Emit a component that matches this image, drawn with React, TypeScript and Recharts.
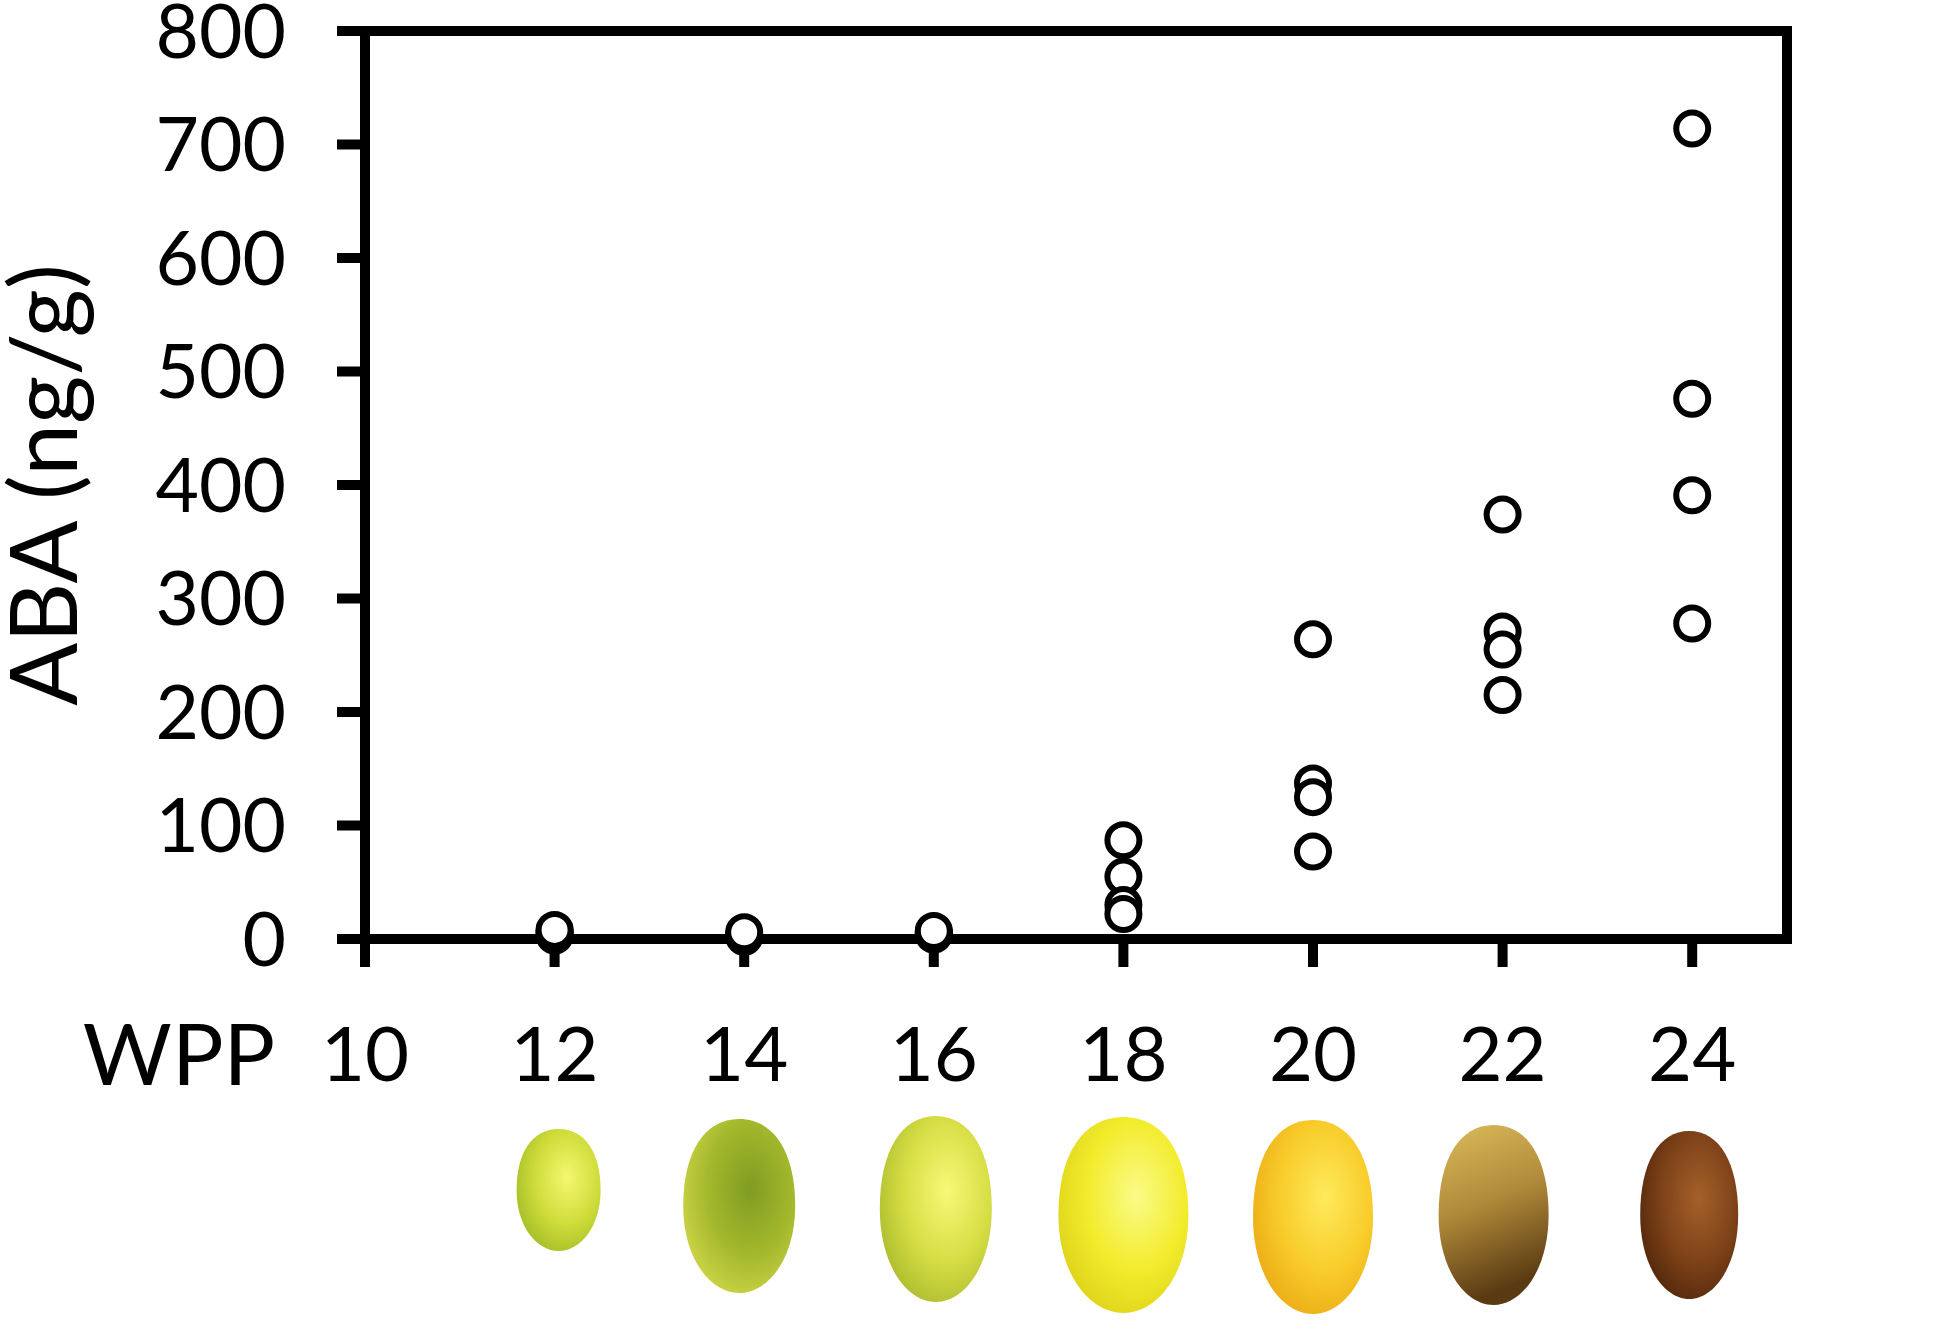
import { Scatter, ScatterChart, XAxis, YAxis, ReferenceLine, Label } from 'recharts'

// ABA content of fruit per sampling week (weeks post pollination)
const wppTicks = [10, 12, 14, 16, 18, 20, 22, 24]
const abaTicks = [0, 100, 200, 300, 400, 500, 600, 700, 800]

const weeks = [12, 14, 16, 18, 20, 22, 24]
const abaReplicates = [
  [3, 5, 7, 8],
  [2, 3, 4, 6],
  [4, 5, 6, 7],
  [87, 55, 30, 22],
  [264, 137, 125, 77],
  [374, 271, 255, 215],
  [714, 476, 391, 278],
]

const points = weeks.flatMap((wpp, i) => abaReplicates[i].map((aba) => ({ wpp, aba })))

// stand-ins for the fruit photos under each week label
type Look = {
  dx: number
  dy: number
  rx: number
  ry: number
  kind: 'radial' | 'linear'
  stops: string[]
}
const fruitLooks: Record<number, Look> = {
  12: { dx: 4, dy: 223, rx: 42, ry: 61, kind: 'radial', stops: ['#f4f870', '#cfdc3a', '#9fba26'] },
  14: { dx: -5, dy: 239, rx: 56, ry: 87, kind: 'radial', stops: ['#7f9c22', '#a4b82c', '#d2d84a'] },
  16: { dx: 2, dy: 242, rx: 56, ry: 93, kind: 'radial', stops: ['#f8f878', '#d6de44', '#a8b82c'] },
  18: { dx: 0, dy: 248, rx: 65, ry: 98, kind: 'radial', stops: ['#fbfb88', '#f2ec2c', '#dcd018'] },
  20: { dx: 0, dy: 250, rx: 60, ry: 97, kind: 'radial', stops: ['#feea5c', '#f8cc2a', '#eaa814'] },
  22: { dx: -9, dy: 248, rx: 55, ry: 90, kind: 'linear', stops: ['#dcbc5c', '#b08a3a', '#5a3a12'] },
  24: { dx: -3, dy: 248, rx: 49, ry: 84, kind: 'radial', stops: ['#a4602a', '#7e4218', '#4e240a'] },
}

const FONT = 'Lato, "Noto Sans", sans-serif'

function eggPath(cx: number, cy: number, rx: number, ry: number) {
  const t = cy - ry
  const b = cy + ry
  return [
    `M ${cx} ${t}`,
    `C ${cx + 0.62 * rx} ${t} ${cx + rx} ${cy - 0.62 * ry} ${cx + rx} ${cy}`,
    `C ${cx + rx} ${cy + 0.6 * ry} ${cx + 0.52 * rx} ${b} ${cx} ${b}`,
    `C ${cx - 0.52 * rx} ${b} ${cx - rx} ${cy + 0.6 * ry} ${cx - rx} ${cy}`,
    `C ${cx - rx} ${cy - 0.62 * ry} ${cx - 0.62 * rx} ${t} ${cx} ${t}`,
    'Z',
  ].join(' ')
}

function WeekTick({ x, y, payload }: any) {
  const look = fruitLooks[payload.value]
  const gid = `fruit-${payload.value}`
  return (
    <g>
      <text x={x} y={y + 114} textAnchor="middle" fontSize={76} fontFamily={FONT} fill="#000">
        {payload.value}
      </text>
      {look && (
        <g>
          <defs>
            {look.kind === 'radial' ? (
              <radialGradient id={gid} cx="0.6" cy="0.4" r="0.7">
                <stop offset="0%" stopColor={look.stops[0]} />
                <stop offset="55%" stopColor={look.stops[1]} />
                <stop offset="100%" stopColor={look.stops[2]} />
              </radialGradient>
            ) : (
              <linearGradient id={gid} x1="0" y1="0" x2="0.25" y2="1">
                <stop offset="0%" stopColor={look.stops[0]} />
                <stop offset="50%" stopColor={look.stops[1]} />
                <stop offset="100%" stopColor={look.stops[2]} />
              </linearGradient>
            )}
          </defs>
          <path d={eggPath(x + look.dx, y + look.dy, look.rx, look.ry)} fill={`url(#${gid})`} />
        </g>
      )}
    </g>
  )
}

function Dot({ cx, cy }: any) {
  return <circle cx={cx} cy={cy} r={16} fill="#fff" stroke="#000" strokeWidth={6} />
}

export default function App() {
  const axisLine = { stroke: '#000', strokeWidth: 10 }
  return (
    <div style={{ position: 'absolute', left: 0, top: 0, background: '#fff' }}>
      <ScatterChart width={1949} height={1342} margin={{ top: 31, right: 162, bottom: 0, left: 0 }}>
        <XAxis
          type="number"
          dataKey="wpp"
          domain={[10, 25]}
          ticks={wppTicks}
          interval={0}
          height={403}
          tickSize={28}
          tickMargin={0}
          axisLine={axisLine}
          tickLine={axisLine}
          tick={<WeekTick />}
        >
          <Label
            content={({ viewBox }: any) => (
              <text
                x={viewBox.x - 186}
                y={viewBox.y + 146}
                textAnchor="middle"
                fontSize={86}
                fontFamily={FONT}
                fill="#000"
              >
                WPP
              </text>
            )}
          />
        </XAxis>
        <YAxis
          type="number"
          dataKey="aba"
          domain={[0, 800]}
          ticks={abaTicks}
          interval={0}
          width={365}
          tickSize={28}
          tickMargin={51}
          axisLine={axisLine}
          tickLine={axisLine}
          tick={{ fontSize: 75, fontFamily: FONT, fill: '#000' }}
        >
          <Label
            content={({ viewBox }: any) => {
              const cy = viewBox.y + viewBox.height / 2
              return (
                <text
                  x={77}
                  y={cy}
                  transform={`rotate(-90 77 ${cy})`}
                  textAnchor="middle"
                  fontSize={93}
                  fontFamily={FONT}
                  fill="#000"
                >
                  ABA (ng/g)
                </text>
              )
            }}
          />
        </YAxis>
        <ReferenceLine y={800} stroke="#000" strokeWidth={10} strokeLinecap="square" />
        <ReferenceLine x={25} stroke="#000" strokeWidth={10} strokeLinecap="square" />
        <Scatter data={points} shape={<Dot />} isAnimationActive={false} />
      </ScatterChart>
    </div>
  )
}
